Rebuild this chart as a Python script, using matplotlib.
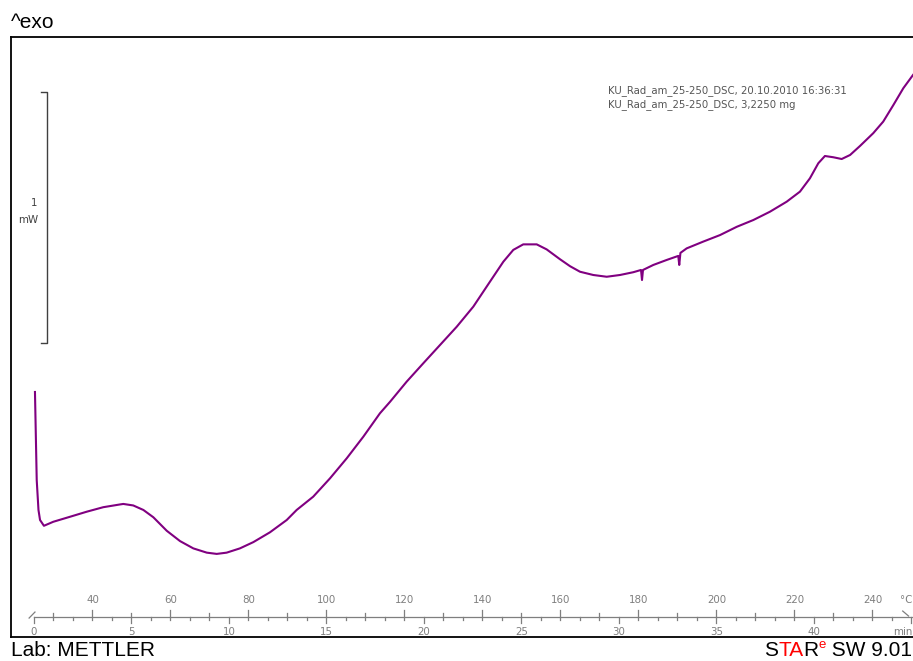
import matplotlib.pyplot as plt
import numpy as np

# DSC run: time in min, heat flow in mW (exo up), heating 25 -> 250 °C at 5 K/min
time_min = [0.05, 0.14, 0.23, 0.31, 0.51, 0.99, 1.85, 2.70, 3.55, 4.41,
            4.58, 5.09, 5.61, 6.12, 6.81, 7.49, 8.17, 8.86, 9.37, 9.88,
            10.56, 11.25, 12.10, 12.96, 13.47, 14.32, 15.18, 16.04, 16.89, 17.74,
            18.26, 19.11, 19.96, 20.82, 21.68, 22.53, 23.38, 24.07, 24.58, 25.09,
            25.78, 26.29, 26.97, 27.49, 28.00, 28.68, 29.37, 30.05, 30.73, 31.13,
            31.18, 31.23, 31.76, 32.45, 33.04, 33.09, 33.15, 33.47, 34.32, 35.18,
            36.04, 36.89, 37.74, 38.60, 39.28, 39.79, 40.22, 40.56, 40.99, 41.42,
            41.85, 42.36, 43.04, 43.55, 44.07, 44.58, 45.08]
heat_flow = [0.032, -0.319, -0.438, -0.478, -0.501, -0.485, -0.465, -0.445, -0.427, -0.416,
             -0.414, -0.420, -0.438, -0.467, -0.521, -0.562, -0.591, -0.608, -0.613, -0.608,
             -0.591, -0.566, -0.527, -0.478, -0.438, -0.385, -0.312, -0.232, -0.146, -0.053,
             -0.007, 0.073, 0.146, 0.219, 0.292, 0.372, 0.471, 0.551, 0.598, 0.620,
             0.620, 0.600, 0.561, 0.533, 0.511, 0.498, 0.491, 0.498, 0.509, 0.518,
             0.478, 0.518, 0.538, 0.558, 0.574, 0.538, 0.586, 0.604, 0.631, 0.657,
             0.690, 0.717, 0.750, 0.790, 0.830, 0.883, 0.943, 0.972, 0.967, 0.960,
             0.976, 1.012, 1.063, 1.109, 1.175, 1.242, 1.295]

start_temp = 25.0
rate = 5.0  # K/min
temp_labels = [40, 60, 80, 100, 120, 140, 160, 180, 200, 220, 240]
time_labels = [0, 5, 10, 15, 20, 25, 30, 35, 40]
info_lines = ["KU_Rad_am_25-250_DSC, 20.10.2010 16:36:31",
              "KU_Rad_am_25-250_DSC, 3,2250 mg"]

W, H = 913, 661
fig = plt.figure(figsize=(W / 100, H / 100), dpi=100)
fig.patch.set_facecolor("white")

ax = fig.add_axes([11 / W, (H - 637) / H, (W - 11) / W, 600 / H])
ax.set_xlim(-1.179, 45.077)
ax.set_ylim(-0.944, 1.446)
for side in ["top", "left", "bottom"]:
    ax.spines[side].set_linewidth(1.3)
    ax.spines[side].set_color("black")
ax.spines["right"].set_visible(False)
ax.set_xticks([])
ax.set_yticks([])

ax.plot(time_min, heat_flow, color="#800080", lw=1.5, solid_joinstyle="round")

# ruler with temperature above and time below
px = 1 / 251.0
ruler_y = (400 - 617) * px
grey = "#7f7f7f"
small = 7.4
ax.plot([0, 45.1], [ruler_y, ruler_y], color=grey, lw=0.9)
ax.plot([-0.25, 0.05], [ruler_y - 1 * px, ruler_y + 5 * px], color=grey, lw=0.9)
ax.plot([44.55, 44.85], [ruler_y + 6 * px, ruler_y + 1 * px], color=grey, lw=0.9)

for T in range(30, 250, 10):
    t = (T - start_temp) / rate
    up = 7 if T % 20 == 0 else 4
    ax.plot([t, t], [ruler_y, ruler_y + up * px], color=grey, lw=0.9)
for m in range(0, 46):
    down = 6 if m % 5 == 0 else 3
    ax.plot([m, m], [ruler_y, ruler_y - down * px], color=grey, lw=0.9)

for T in temp_labels:
    t = (T - start_temp) / rate
    ax.annotate(str(T), (t, ruler_y), xytext=(0, 12), textcoords="offset points",
                ha="center", va="center", fontsize=small, color=grey, family="DejaVu Sans")
ax.annotate("°C", (45.05, ruler_y), xytext=(0, 12), textcoords="offset points",
            ha="right", va="center", fontsize=small, color=grey, family="DejaVu Sans")
for m in time_labels:
    ax.annotate(str(m), (m, ruler_y), xytext=(0, -11), textcoords="offset points",
                ha="center", va="center", fontsize=small, color=grey, family="DejaVu Sans")
ax.annotate("min", (45.05, ruler_y), xytext=(0, -11), textcoords="offset points",
            ha="right", va="center", fontsize=small, color=grey, family="DejaVu Sans")

# 1 mW scale bar
bar_t = 0.667
bar_lo, bar_hi = 0.227, 1.227
ax.plot([0.36, bar_t, bar_t, 0.36], [bar_hi, bar_hi, bar_lo, bar_lo], color="#404040", lw=1.0)
ax.text(0.2, 0.785, "1", ha="right", va="center", fontsize=small, color="#404040", family="DejaVu Sans")
ax.text(0.2, 0.717, "mW", ha="right", va="center", fontsize=small, color="#404040", family="DejaVu Sans")

for i, line in enumerate(info_lines):
    fig.text(608 / W, 1 - (91 + 14 * i) / H, line, ha="left", va="center",
             fontsize=7.3, color="#555555", family="DejaVu Sans")

big = 15
fig.text(11 / W, 1 - 22 / H, "^exo", ha="left", va="center", fontsize=big,
         family="Liberation Sans")
fig.text(11 / W, 1 - 656 / H, "Lab: METTLER", ha="left", va="baseline", fontsize=big,
         family="Liberation Sans")

# STARe logo, built piece by piece from the right edge
renderer = fig.canvas.get_renderer()
parts = [("S", "black", big, 0), ("TA", "red", big, 0), ("R", "black", big, 0),
         ("e", "red", 9.5, 8), (" SW 9.01", "black", big, 0)]
widths = []
for s, c, fs, dy in parts:
    tt = fig.text(0, 0, s, fontsize=fs, family="Liberation Sans")
    widths.append(tt.get_window_extent(renderer).width)
    tt.remove()
x = W - 1 - sum(widths)
for (s, c, fs, dy), w in zip(parts, widths):
    fig.text(x / W, 1 - (656 - dy) / H, s, ha="left", va="baseline", fontsize=fs,
             color=c, family="Liberation Sans")
    x += w

fig.savefig("out.png", dpi=100)
